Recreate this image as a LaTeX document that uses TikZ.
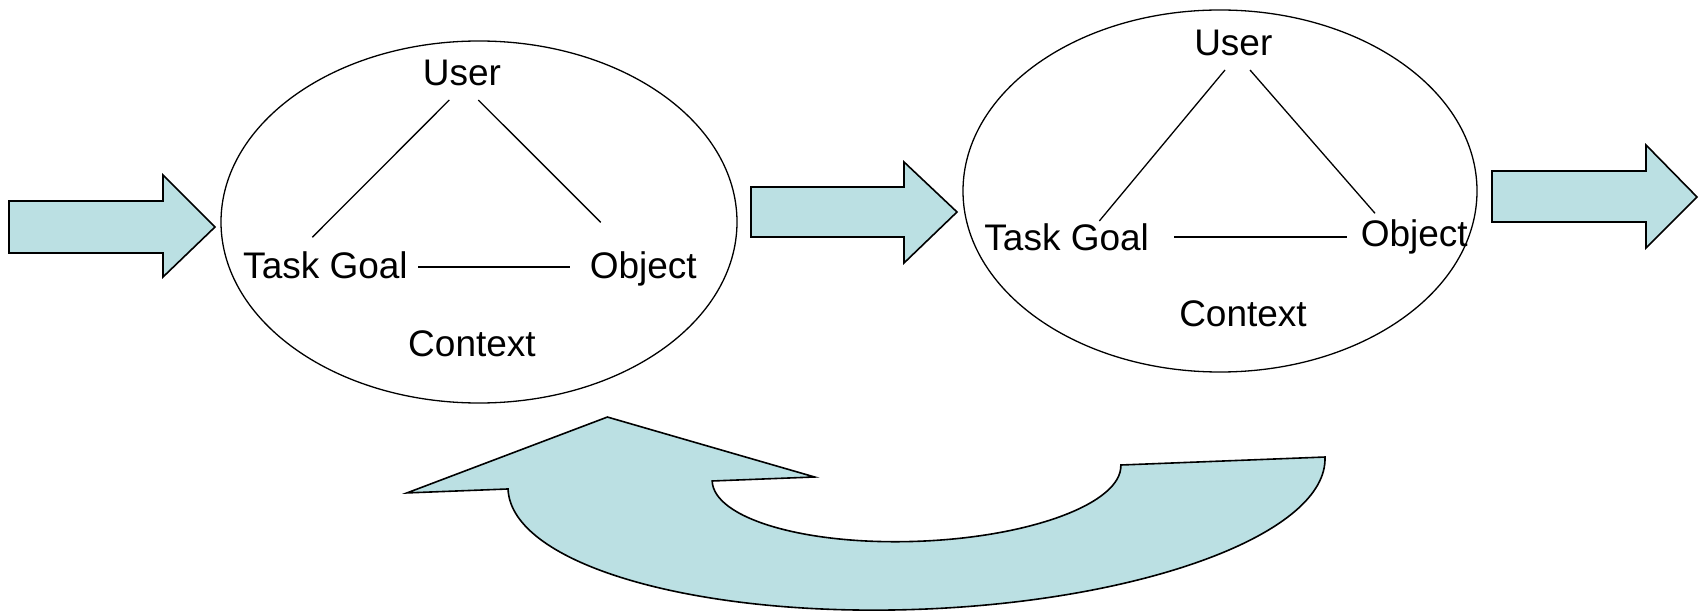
\documentclass[tikz,border=0pt]{standalone}
\usepackage{fontspec}
\setmainfont{Liberation Sans}
\definecolor{arrowcyan}{RGB}{187,224,227}
\tikzset{
  lbl/.style={anchor=base, inner sep=0pt, font=\fontsize{37}{44}\selectfont},
  oval/.style={draw=black, line width=1.3pt},
  link/.style={draw=black, line width=1.3pt},
  blockarrow/.style={draw=black, fill=arrowcyan, line width=1.6pt, line join=miter}
}
\begin{document}
\begin{tikzpicture}[x=1pt, y=1pt]
\useasboundingbox (0,0) rectangle (1699,611);

% straight block arrows
\draw[blockarrow] (9,410) -- (163,410) -- (163,436) -- (215,384) -- (163,334) -- (163,358) -- (9,358) -- cycle;
\draw[blockarrow] (751,424) -- (904,424) -- (904,449) -- (957,399) -- (904,348) -- (904,374) -- (751,374) -- cycle;
\draw[blockarrow] (1492,440) -- (1646,440) -- (1646,466) -- (1697,414) -- (1646,363) -- (1646,389) -- (1492,389) -- cycle;

% ellipses
\draw[oval] (479,389) ellipse [x radius=258, y radius=181];
\draw[oval] (1220,420) ellipse [x radius=257, y radius=181];

% labels, first ellipse
\node[lbl] (user1) at (462,525) {User};
\node[lbl] (task1) at (325.5,332.7) {Task Goal};
\node[lbl] (obj1) at (643.3,332.7) {Object};
\node[lbl] (ctx1) at (472,254.3) {Context};

% labels, second ellipse
\node[lbl] (user2) at (1233.3,555.3) {User};
\node[lbl] (task2) at (1066.7,360) {Task Goal};
\node[lbl] (obj2) at (1414.2,364.3) {Object};
\node[lbl] (ctx2) at (1243,284.3) {Context};

% connector end points, first ellipse
\coordinate (u1l) at (449.3,511);
\coordinate (t1u) at (312.3,373.7);
\coordinate (u1r) at (478.3,511);
\coordinate (o1u) at (600.7,388.7);
\coordinate (t1r) at (418.3,344);
\coordinate (o1l) at (570,344);
\draw[link] (u1l) -- (t1u);
\draw[link] (u1r) -- (o1u);
\draw[link] (t1r) -- (o1l);

% connector end points, second ellipse
\coordinate (u2l) at (1225,541);
\coordinate (t2u) at (1099.3,390);
\coordinate (u2r) at (1250,541);
\coordinate (o2u) at (1375,397.7);
\coordinate (t2r) at (1174.3,374);
\coordinate (o2l) at (1347.3,374);
\draw[link] (u2l) -- (t2u);
\draw[link] (u2r) -- (o2u);
\draw[link] (t2r) -- (o2l);

% curved return arrow
\begin{scope}[shift={(916.5,138)}, rotate=2.24]
\draw[blockarrow] (-510,0) -- (-306.7,68) -- (-102,0) -- (-204.5,0)
  arc[start angle=180, end angle=360, x radius=204.5, y radius=68.3]
  -- (408.8,0)
  arc[start angle=0, end angle=-180, x radius=408.8, y radius=136.3]
  -- cycle;
\end{scope}
\end{tikzpicture}
\end{document}
